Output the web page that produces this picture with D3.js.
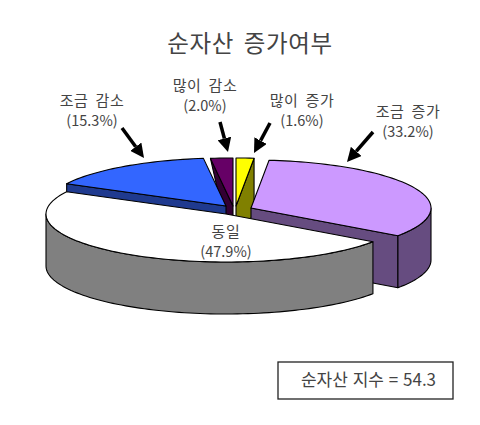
<!DOCTYPE html>
<html>
<head>
<meta charset="utf-8">
<script src="https://cdn.jsdelivr.net/npm/d3@7"></script>
<style>
  html, body { margin: 0; padding: 0; background: #fff; }
  text { font-family: "Noto Sans CJK KR", sans-serif; fill: #444; }
</style>
</head>
<body>
<svg id="chart" width="480" height="425"></svg>
<script>
// clockwise from 12 o'clock
const categories = ["많이 증가", "조금 증가", "동일", "조금 감소", "많이 감소"];
const values = [1.6, 33.2, 47.9, 15.3, 2.0];
const titleText = "순자산 증가여부";
const indexText = "순자산 지수 = 54.3";

const topColors = ["#ffff00", "#cc99ff", "#ffffff", "#3366ff", "#660066"];
const wallColors = ["#808000", "#664c80", "#808080", "#1f3a8f", "#330033"];
// exploded slice centres
const centers = [[236, 206], [251, 208], [226, 214], [226, 206], [233, 206]];
const labelPos = [[302, 106], [408, 117], [226, 237], [92, 106], [205, 91]];
const arrows = [
  [[270, 123], [254, 153]],
  [[373, 132], [347, 162]],
  null,
  [[122, 128], [144, 158]],
  [[220, 122], [228, 152]],
];

const rx = 180, ry = 48, depth = 52;

const svg = d3.select("#chart");

const pieAngles = d3.pie().sort(null).value((d) => d)(values);

const px = d3.scaleLinear().domain([-1, 1]).range([-rx, rx]);
const py = d3.scaleLinear().domain([-1, 1]).range([-ry, ry]);

function rim(a, c, dy) {
  return [c[0] + px(Math.sin(a)), c[1] + py(-Math.cos(a)) + dy];
}

function arcPoints(a0, a1, c, dy) {
  const n = Math.max(2, Math.ceil((a1 - a0) / 0.03));
  return d3.range(n + 1).map((i) => rim(a0 + ((a1 - a0) * i) / n, c, dy));
}

const line = d3.line().curve(d3.curveLinear);
const closed = (pts) => line(pts) + "Z";

function drawPoly(pts, fill) {
  svg
    .append("path")
    .attr("d", closed(pts))
    .attr("fill", fill)
    .attr("stroke", "#000")
    .attr("stroke-width", 1.1)
    .attr("stroke-linejoin", "round");
}

// painter's order, back slices first
[0, 4, 3, 1, 2].forEach((i) => {
  const { startAngle: a0, endAngle: a1 } = pieAngles[i];
  const c = centers[i];

  // radial faces that look toward the viewer
  if (Math.sin(a0) < -0.01) {
    const face = [rim(a0, c, 0), c, [c[0], c[1] + depth]];
    // the thin slice keeps a white gap to the blue one, so no lower rim corner
    if (i !== 4) face.push(rim(a0, c, depth));
    drawPoly(face, wallColors[i]);
  }
  if (Math.sin(a1) > 0.01) {
    drawPoly(
      [rim(a1, c, 0), c, [c[0], c[1] + depth], rim(a1, c, depth)],
      wallColors[i]
    );
  }

  // outer wall, only the part facing the viewer
  const w0 = Math.max(a0, Math.PI / 2);
  const w1 = Math.min(a1, (3 * Math.PI) / 2);
  if (w1 > w0) {
    drawPoly(
      arcPoints(w0, w1, c, 0).concat(arcPoints(w0, w1, c, depth).reverse()),
      wallColors[i]
    );
  }

  // top
  drawPoly([c].concat(arcPoints(a0, a1, c, 0)), topColors[i]);
});

// arrows
svg
  .append("defs")
  .append("marker")
  .attr("id", "head")
  .attr("markerUnits", "userSpaceOnUse")
  .attr("markerWidth", 15)
  .attr("markerHeight", 14)
  .attr("refX", 0)
  .attr("refY", 7)
  .attr("orient", "auto")
  .append("path")
  .attr("d", "M0,0L14,7L0,14Z")
  .attr("fill", "#000");

arrows.forEach((a) => {
  if (!a) return;
  const [s, t] = a;
  const len = Math.hypot(t[0] - s[0], t[1] - s[1]);
  const k = (len - 14) / len;
  svg
    .append("line")
    .attr("x1", s[0])
    .attr("y1", s[1])
    .attr("x2", s[0] + (t[0] - s[0]) * k)
    .attr("y2", s[1] + (t[1] - s[1]) * k)
    .attr("stroke", "#000")
    .attr("stroke-width", 3.5)
    .attr("marker-end", "url(#head)");
});

// labels
categories.forEach((name, i) => {
  const [x, y] = labelPos[i];
  const t = svg.append("text").attr("text-anchor", "middle");
  t.append("tspan")
    .attr("x", x)
    .attr("y", y)
    .attr("font-size", 15)
    .attr("word-spacing", 3)
    .attr("letter-spacing", 0.6)
    .text(name);
  t.append("tspan")
    .attr("x", x)
    .attr("y", y + 20)
    .attr("font-size", 14.5)
    .text(`(${values[i].toFixed(1)}%)`);
});

svg
  .append("text")
  .attr("x", 250)
  .attr("y", 52)
  .attr("text-anchor", "middle")
  .attr("font-size", 23.5)
  .attr("word-spacing", 4)
  .attr("letter-spacing", 0.6)
  .text(titleText);

// index box
svg
  .append("rect")
  .attr("x", 278)
  .attr("y", 362)
  .attr("width", 175)
  .attr("height", 37)
  .attr("fill", "#fff")
  .attr("stroke", "#222")
  .attr("stroke-width", 1.3);

svg
  .append("text")
  .attr("x", 368.5)
  .attr("y", 386)
  .attr("text-anchor", "middle")
  .attr("font-size", 17)
  .attr("word-spacing", 1)
  .text(indexText);
</script>
</body>
</html>
